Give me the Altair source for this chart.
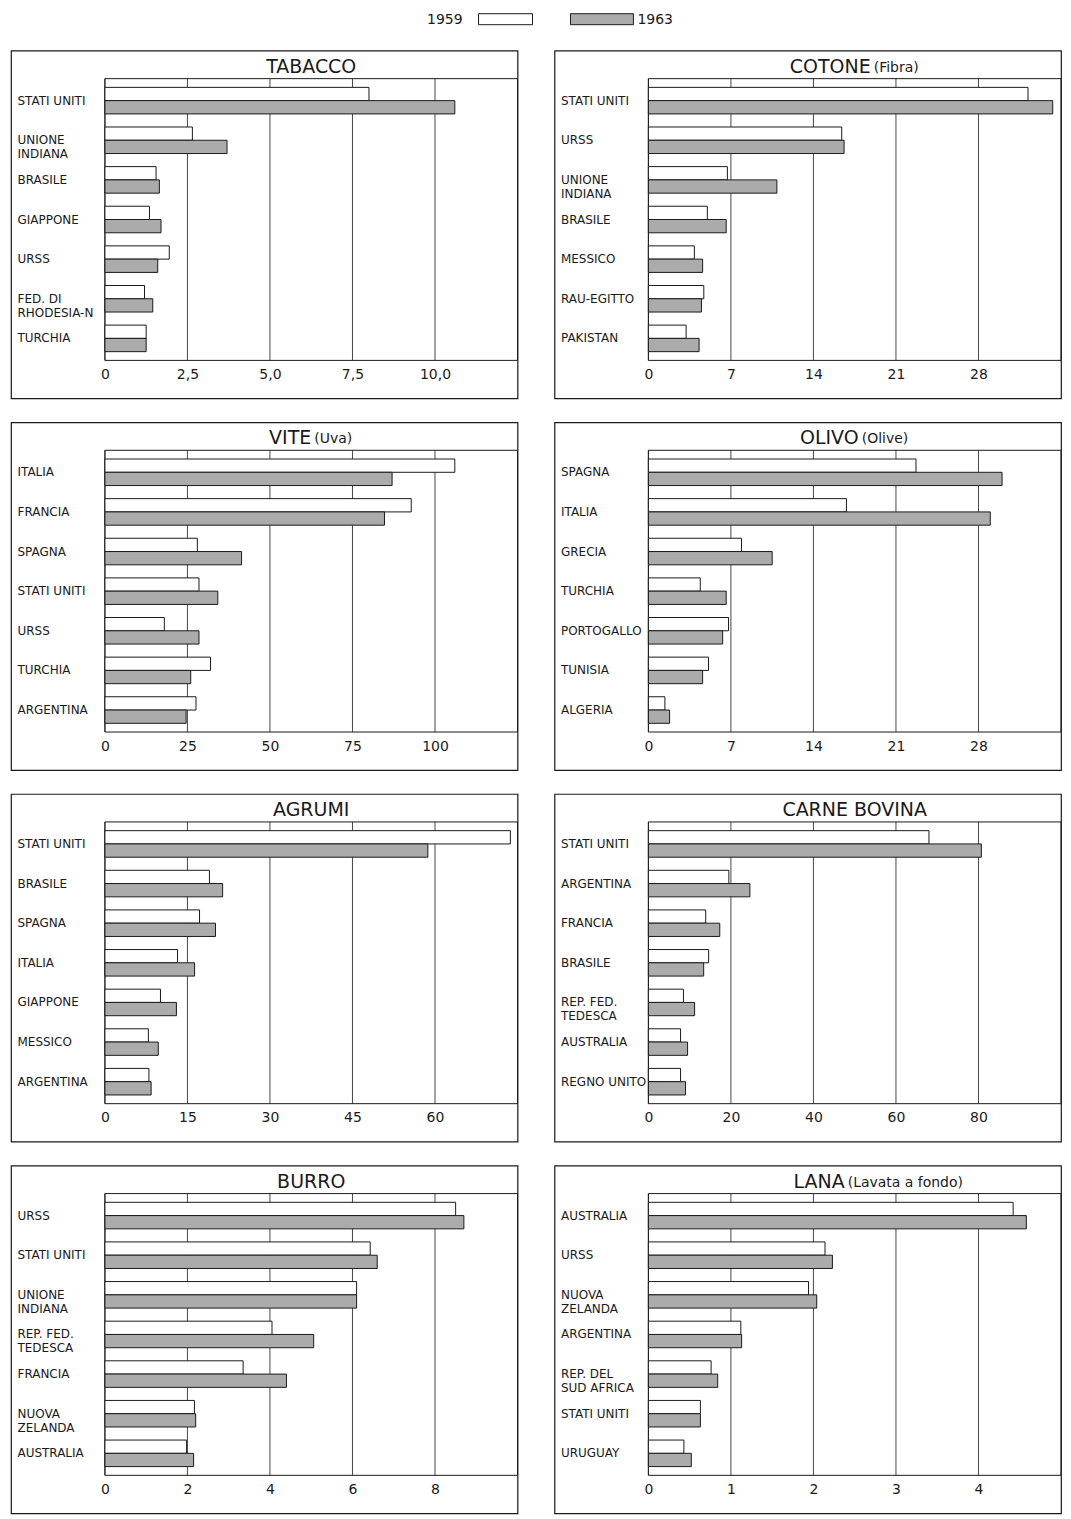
import altair as alt
import pandas as pd

YEARS = ["1959", "1963"]

# ---------------- data ----------------
TAB_TITLE, TAB_SUB = "TABACCO", ""
TAB_COUNTRIES = ["STATI UNITI", "UNIONE|INDIANA", "BRASILE", "GIAPPONE", "URSS", "FED. DI|RHODESIA-N", "TURCHIA"]
TAB_1959 = [8.0, 2.65, 1.55, 1.35, 1.95, 1.2, 1.25]
TAB_1963 = [10.6, 3.7, 1.65, 1.7, 1.6, 1.45, 1.25]
TAB_TICKS = [0, 2.5, 5, 7.5, 10]
TAB_MAX = 12.5

COT_TITLE, COT_SUB = "COTONE", "(Fibra)"
COT_COUNTRIES = ["STATI UNITI", "URSS", "UNIONE|INDIANA", "BRASILE", "MESSICO", "RAU-EGITTO", "PAKISTAN"]
COT_1959 = [32.2, 16.4, 6.7, 5.0, 3.9, 4.7, 3.2]
COT_1963 = [34.3, 16.6, 10.9, 6.6, 4.6, 4.5, 4.3]
COT_TICKS = [0, 7, 14, 21, 28]
COT_MAX = 35

VIT_TITLE, VIT_SUB = "VITE", "(Uva)"
VIT_COUNTRIES = ["ITALIA", "FRANCIA", "SPAGNA", "STATI UNITI", "URSS", "TURCHIA", "ARGENTINA"]
VIT_1959 = [106, 92.8, 28, 28.5, 18, 32, 27.6]
VIT_1963 = [87, 84.7, 41.4, 34.2, 28.5, 26, 24.6]
VIT_TICKS = [0, 25, 50, 75, 100]
VIT_MAX = 125

OLI_TITLE, OLI_SUB = "OLIVO", "(Olive)"
OLI_COUNTRIES = ["SPAGNA", "ITALIA", "GRECIA", "TURCHIA", "PORTOGALLO", "TUNISIA", "ALGERIA"]
OLI_1959 = [22.7, 16.8, 7.9, 4.4, 6.8, 5.1, 1.4]
OLI_1963 = [30.0, 29.0, 10.5, 6.6, 6.3, 4.6, 1.8]
OLI_TICKS = [0, 7, 14, 21, 28]
OLI_MAX = 35

AGR_TITLE, AGR_SUB = "AGRUMI", ""
AGR_COUNTRIES = ["STATI UNITI", "BRASILE", "SPAGNA", "ITALIA", "GIAPPONE", "MESSICO", "ARGENTINA"]
AGR_1959 = [73.7, 19.0, 17.2, 13.2, 10.1, 7.9, 8.0]
AGR_1963 = [58.7, 21.4, 20.1, 16.3, 13.0, 9.7, 8.4]
AGR_TICKS = [0, 15, 30, 45, 60]
AGR_MAX = 75

CAR_TITLE, CAR_SUB = "CARNE BOVINA", ""
CAR_COUNTRIES = ["STATI UNITI", "ARGENTINA", "FRANCIA", "BRASILE", "REP. FED.|TEDESCA", "AUSTRALIA", "REGNO UNITO"]
CAR_1959 = [68, 19.5, 13.9, 14.6, 8.5, 7.8, 7.8]
CAR_1963 = [80.7, 24.6, 17.3, 13.4, 11.2, 9.5, 9.0]
CAR_TICKS = [0, 20, 40, 60, 80]
CAR_MAX = 100

BUR_TITLE, BUR_SUB = "BURRO", ""
BUR_COUNTRIES = ["URSS", "STATI UNITI", "UNIONE|INDIANA", "REP. FED.|TEDESCA", "FRANCIA", "NUOVA|ZELANDA", "AUSTRALIA"]
BUR_1959 = [8.5, 6.43, 6.1, 4.05, 3.35, 2.17, 1.98]
BUR_1963 = [8.7, 6.6, 6.1, 5.06, 4.4, 2.2, 2.15]
BUR_TICKS = [0, 2, 4, 6, 8]
BUR_MAX = 10

LAN_TITLE, LAN_SUB = "LANA", "(Lavata a fondo)"
LAN_COUNTRIES = ["AUSTRALIA", "URSS", "NUOVA|ZELANDA", "ARGENTINA", "REP. DEL|SUD AFRICA", "STATI UNITI", "URUGUAY"]
LAN_1959 = [4.42, 2.14, 1.94, 1.12, 0.76, 0.63, 0.43]
LAN_1963 = [4.58, 2.23, 2.04, 1.13, 0.84, 0.63, 0.52]
LAN_TICKS = [0, 1, 2, 3, 4]
LAN_MAX = 5

# ---------------- style ----------------
FONT = "DejaVu Sans"
INK = "#1a1a1a"
GREY = "#ababab"
PW = 507            # whole panel (frame) width
PH = 348            # whole panel (frame) height
LABEL_W = 94        # room for country names, left of the zero line
TOP = 28            # room for the title
PLOT_H = 282        # height of the bar area
BOTTOM = PH - TOP - PLOT_H


def panel(title, sub, countries, v59, v63, ticks, xmax, comma=False, title_dx=0):
    rows = []
    for c, a, b in zip(countries, v59, v63):
        rows.append({"paese": c, "anno": YEARS[0], "valore": a})
        rows.append({"paese": c, "anno": YEARS[1], "valore": b})
    df = pd.DataFrame(rows)
    if comma:
        lab = "datum.value == 0 ? '0' : replace(format(datum.value, '.1f'), '.', ',')"
    else:
        lab = "format(datum.value, 'd')"

    xscale = alt.Scale(domain=[0, xmax], nice=False, zero=True, range=[LABEL_W, PW])

    bars = alt.Chart(df).mark_bar(stroke=INK, strokeWidth=1).encode(
        x=alt.X(
            "valore:Q",
            scale=xscale,
            axis=alt.Axis(
                values=ticks, grid=False, domain=False, ticks=False, tickSize=0,
                labelExpr=lab, labelFont=FONT, labelFontSize=14, labelColor=INK,
                labelPadding=7, labelFlush=False, offset=-BOTTOM, title=None,
            ),
        ),
        y=alt.Y(
            "paese:N",
            sort=countries,
            scale=alt.Scale(paddingInner=0.33, paddingOuter=0.22, range=[TOP, TOP + PLOT_H]),
            axis=alt.Axis(
                domain=False, ticks=False, tickSize=0, grid=False,
                labelAlign="left", labelPadding=0, offset=-6,
                labelExpr="split(datum.label, '|')",
                labelFont=FONT, labelFontSize=12, labelColor=INK,
                labelLineHeight=14, labelBaseline="middle", labelLimit=200,
                title=None,
            ),
        ),
        yOffset=alt.YOffset("anno:N", sort=YEARS, scale=alt.Scale(paddingInner=0, paddingOuter=0)),
        fill=alt.Fill("anno:N", scale=alt.Scale(domain=YEARS, range=["white", GREY]), legend=None),
    )

    grid = alt.Chart(pd.DataFrame({"t": ticks})).mark_rule(color="#333333", strokeWidth=0.9).encode(
        x=alt.X("t:Q", scale=xscale),
        y=alt.value(TOP), y2=alt.value(TOP + PLOT_H),
    )

    meta = pd.DataFrame({"titolo": [title], "sotto": [sub]})
    box = alt.Chart(meta).mark_rect(fill="transparent", stroke=INK, strokeWidth=1).encode(
        x=alt.value(LABEL_W), x2=alt.value(PW),
        y=alt.value(TOP), y2=alt.value(TOP + PLOT_H),
    )
    cx = LABEL_W + (PW - LABEL_W) / 2
    layers = [grid, box, bars]
    if sub:
        main = alt.Chart(meta).mark_text(
            font=FONT, fontSize=19, align="right", baseline="middle", color=INK, dx=title_dx
        ).encode(x=alt.value(cx), y=alt.value(TOP - 12), text="titolo:N")
        small = alt.Chart(meta).mark_text(
            font=FONT, fontSize=14, align="left", baseline="middle", color=INK, dx=title_dx + 3
        ).encode(x=alt.value(cx), y=alt.value(TOP - 11), text="sotto:N")
        layers += [main, small]
    else:
        main = alt.Chart(meta).mark_text(
            font=FONT, fontSize=19, align="center", baseline="middle", color=INK
        ).encode(x=alt.value(cx), y=alt.value(TOP - 12), text="titolo:N")
        layers += [main]

    return alt.layer(*layers).properties(
        width=PW, height=PH,
        view=alt.ViewBackground(stroke=INK, strokeWidth=1.2),
    )


p_tab = panel(TAB_TITLE, TAB_SUB, TAB_COUNTRIES, TAB_1959, TAB_1963, TAB_TICKS, TAB_MAX, comma=True)
p_cot = panel(COT_TITLE, COT_SUB, COT_COUNTRIES, COT_1959, COT_1963, COT_TICKS, COT_MAX, title_dx=16)
p_vit = panel(VIT_TITLE, VIT_SUB, VIT_COUNTRIES, VIT_1959, VIT_1963, VIT_TICKS, VIT_MAX, title_dx=0)
p_oli = panel(OLI_TITLE, OLI_SUB, OLI_COUNTRIES, OLI_1959, OLI_1963, OLI_TICKS, OLI_MAX, title_dx=4)
p_agr = panel(AGR_TITLE, AGR_SUB, AGR_COUNTRIES, AGR_1959, AGR_1963, AGR_TICKS, AGR_MAX)
p_car = panel(CAR_TITLE, CAR_SUB, CAR_COUNTRIES, CAR_1959, CAR_1963, CAR_TICKS, CAR_MAX)
p_bur = panel(BUR_TITLE, BUR_SUB, BUR_COUNTRIES, BUR_1959, BUR_1963, BUR_TICKS, BUR_MAX)
p_lan = panel(LAN_TITLE, LAN_SUB, LAN_COUNTRIES, LAN_1959, LAN_1963, LAN_TICKS, LAN_MAX, title_dx=-10)

# ---------------- legend ----------------
leg59 = alt.Data(values=[{"anno": YEARS[0]}])
leg63 = alt.Data(values=[{"anno": YEARS[1]}])
leg_t59 = alt.Chart(leg59).mark_text(font=FONT, fontSize=14, align="right", baseline="middle", color=INK).encode(
    x=alt.value(452), y=alt.value(8), text="anno:N")
leg_r59 = alt.Chart(leg59).mark_rect(fill="white", stroke=INK, strokeWidth=1).encode(
    x=alt.value(468), x2=alt.value(522), y=alt.value(2), y2=alt.value(13))
leg_r63 = alt.Chart(leg63).mark_rect(fill=GREY, stroke=INK, strokeWidth=1).encode(
    x=alt.value(560), x2=alt.value(623), y=alt.value(2), y2=alt.value(13))
leg_t63 = alt.Chart(leg63).mark_text(font=FONT, fontSize=14, align="left", baseline="middle", color=INK).encode(
    x=alt.value(627), y=alt.value(8), text="anno:N")
legend = alt.layer(leg_t59, leg_r59, leg_r63, leg_t63).properties(
    width=1040, height=14, view=alt.ViewBackground(stroke="transparent"))

rows = [
    alt.hconcat(p_tab, p_cot, spacing=34),
    alt.hconcat(p_vit, p_oli, spacing=34),
    alt.hconcat(p_agr, p_car, spacing=34),
    alt.hconcat(p_bur, p_lan, spacing=34),
]

chart = alt.vconcat(legend, *rows, spacing=22).properties(
    padding={"left": 2, "top": 2, "right": 0, "bottom": 0},
    background="white",
).configure(font=FONT)

chart.save("out.html", embed_options={"renderer": "svg", "actions": False})
